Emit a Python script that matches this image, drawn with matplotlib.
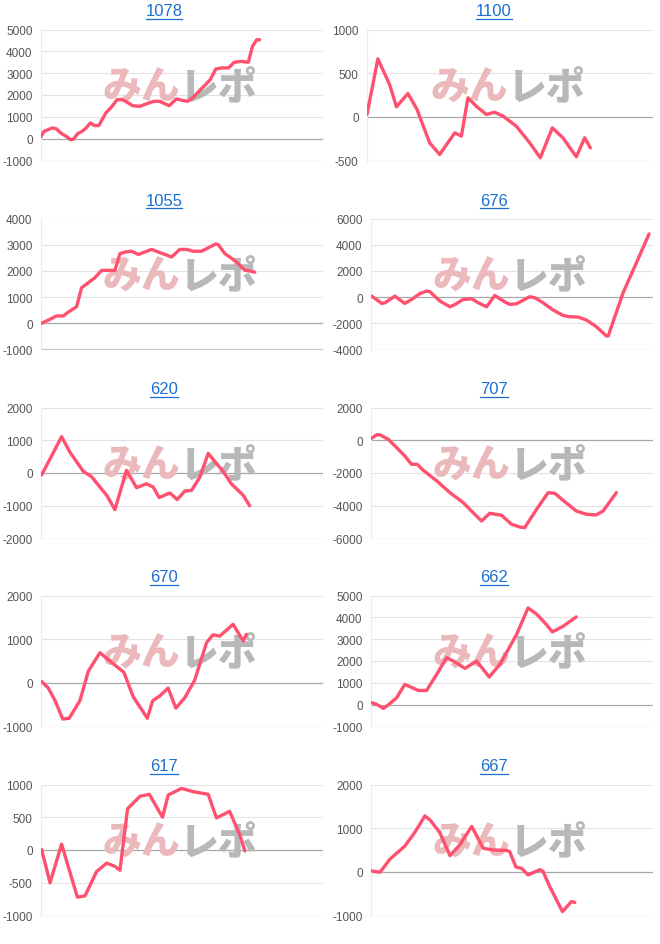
import matplotlib
matplotlib.use('Agg')
import matplotlib.pyplot as plt
from matplotlib.lines import Line2D
import numpy as np

# panel titles (machine numbers) in reading order
titles = ['1078', '1100', '1055', '676', '620', '707', '670', '662', '617', '667']

# x positions are progress through the period (0-100), y values are the running totals
x1078 = [0, 1, 4, 5.5, 7, 9, 10.5, 11.5, 13, 14.5, 16, 17.5, 19, 20.5, 23, 25, 27, 28.5, 30, 32.5,
         35, 37.5, 40, 42, 45.5, 48, 50, 52, 54, 56, 58, 60, 62, 64, 66.5, 68.5, 71, 73.5, 75, 76.5, 77.5]
y1078 = [100, 330, 490, 450, 260, 100, -50, -20, 230, 330, 490, 720, 600, 600, 1180, 1450, 1790, 1790,
         1710, 1510, 1480, 1600, 1710, 1710, 1510, 1820, 1760, 1710, 1890, 2170, 2430, 2700, 3190, 3240,
         3240, 3500, 3540, 3500, 4230, 4530, 4530]

x1100 = [0, 3.8, 7.9, 10.3, 14.3, 17.5, 21.9, 25.4, 30.7, 33, 35.3, 38.2, 41.7, 44.6, 47.6, 52.2,
         56.9, 60.6, 64.8, 68.5, 73.2, 76.1, 78.1]
y1100 = [27, 664, 370, 115, 267, 84, -298, -431, -183, -221, 218, 122, 27, 53, 8, -107, -298, -469,
         -126, -240, -458, -240, -355]

x1055 = [0.2, 2, 5.5, 7.9, 9.7, 12.6, 14.4, 16.8, 19.1, 21.5, 26.2, 28, 29.8, 32.1, 34.5, 36.8, 39.2,
         41.6, 43.9, 46.3, 49.2, 51.6, 54, 56.9, 59.3, 62, 62.8, 65.2, 68.1, 69.9, 72.3, 74, 75.8]
y1055 = [0, 90, 280, 280, 430, 630, 1360, 1550, 1740, 2020, 2020, 2660, 2720, 2750, 2630, 2720, 2820,
         2720, 2630, 2530, 2820, 2820, 2750, 2750, 2880, 3030, 3010, 2660, 2440, 2280, 2020, 2000, 1950]

x676 = [0.2, 3.8, 5, 8.5, 9.7, 12, 14.4, 17.4, 19.7, 20.9, 24.4, 28, 29.8, 32.7, 35.7, 38, 41, 43.9,
        46.9, 49.2, 51.6, 56.3, 58.1, 61, 64.6, 68.1, 70.5, 73.4, 76.4, 79.9, 83.5, 84.1, 89.4, 94.1, 98.6]
y676 = [80, -480, -430, 80, -130, -480, -180, 280, 460, 410, -300, -740, -560, -180, -130, -430, -740,
        130, -300, -560, -510, 30, -50, -430, -990, -1400, -1500, -1520, -1750, -2260, -2970, -2970,
        330, 2610, 4820]

x620 = [0.2, 3.2, 7.3, 10.3, 15, 17.9, 20.9, 23.3, 26.2, 30.3, 33.9, 37.4, 39.8, 41.9, 45.7, 48.3,
        51, 53.4, 56.3, 59.3, 62.8, 64.6, 67.5, 71.7, 74]
y620 = [-60, 430, 1110, 630, 50, -110, -430, -680, -1120, 80, -450, -330, -430, -750, -610, -810,
        -550, -530, -130, 600, 230, 50, -330, -680, -1000]

x707 = [0.2, 2, 3.2, 6.1, 9.1, 12, 14.4, 16.4, 18.5, 23.3, 28, 32.7, 36.2, 39.2, 42.1, 46.3, 49.8,
        52.8, 54.5, 58.7, 62.8, 65.2, 68.1, 72.8, 76.4, 79.9, 82.3, 87]
y707 = [120, 330, 330, 60, -450, -960, -1470, -1470, -1830, -2480, -3200, -3810, -4420, -4930, -4460,
        -4580, -5130, -5300, -5340, -4220, -3200, -3240, -3670, -4320, -4520, -4560, -4320, -3200]

x670 = [0.2, 2.6, 5, 7.7, 10, 13.8, 16.8, 20.9, 24.4, 29.4, 32.7, 37.7, 39.6, 42.1, 45.1, 47.8, 51,
        54.5, 58.7, 61, 63.4, 68.1, 71.7, 72.8]
y670 = [30, -120, -410, -830, -810, -410, 270, 690, 500, 240, -320, -810, -410, -300, -120, -580,
        -340, 60, 920, 1100, 1070, 1340, 960, 1110]

x662 = [0.2, 2, 4.4, 6.1, 9.1, 12, 16.8, 19.7, 23.3, 26.8, 29.2, 33.3, 37.4, 41.9, 45.7, 51.6, 55.7,
        58.7, 62.2, 64.3, 68.1, 72.8]
y662 = [90, 15, -170, -15, 320, 930, 650, 650, 1390, 2150, 2000, 1660, 2000, 1270, 1840, 3210, 4430,
        4150, 3670, 3330, 3590, 4020]

x617 = [0.2, 3.2, 7.3, 12.9, 15.6, 19.7, 23.3, 26.2, 28, 30.7, 35.1, 38.4, 43.1, 45.1, 49.8, 54,
        59.3, 62.2, 66.9, 70.5, 72.3]
y617 = [10, -500, 90, -720, -700, -330, -200, -250, -310, 630, 820, 850, 500, 840, 940, 890, 850,
        490, 590, 230, -15]

x667 = [0.2, 3.2, 6.7, 12, 15.6, 19.1, 20.9, 24.4, 28, 31.5, 35.7, 39.8, 43.3, 48.1, 49.2, 51.4,
        53.4, 55.7, 59.9, 61, 63.4, 67.9, 69.3, 71.1, 72.3]
y667 = [20, -10, 290, 590, 910, 1280, 1190, 900, 370, 620, 1040, 540, 500, 490, 460, 110, 80, -70,
        50, 10, -340, -910, -810, -680, -700]

xs = [x1078, x1100, x1055, x676, x620, x707, x670, x662, x617, x667]
ys = [y1078, y1100, y1055, y676, y620, y707, y670, y662, y617, y667]

# y axis range and tick step of each panel
ylims = [(-1000, 5000, 1000), (-500, 1000, 500), (-1000, 4000, 1000), (-4000, 6000, 2000),
         (-2000, 2000, 1000), (-6000, 2000, 2000), (-1000, 2000, 1000), (-1000, 5000, 1000),
         (-1000, 1000, 500), (-1000, 2000, 1000)]

W, H = 660, 945
fig = plt.figure(figsize=(W / 100, H / 100), dpi=100)
fig.patch.set_facecolor('white')

row_tops = [0, 189, 378, 566, 755]
line_col = '#ff516f'
num_font = ['Liberation Sans', 'DejaVu Sans']
cjk_font = ['Noto Sans CJK JP', 'DejaVu Sans']

title_texts = []
for i, t in enumerate(titles):
    r, c = divmod(i, 2)
    top = row_tops[r]
    left = 41 + 330 * c
    if t == '1100':
        left = 367
    right = 323 + 330 * c
    ax = fig.add_axes([left / W, 1 - (top + 161.5) / H, (right - left) / W, 131 / H])
    lo, hi, step = ylims[i]
    ticks = np.arange(lo, hi + step, step)
    ax.set_ylim(lo, hi)
    ax.set_xlim(0, 100)
    ax.set_yticks(ticks)
    ax.set_yticklabels([str(v) for v in ticks], fontfamily=num_font, fontsize=8.5, color='#555555')
    ax.tick_params(axis='y', length=0, pad=6)
    ax.set_xticks([])
    for s in ['top', 'right', 'bottom']:
        ax.spines[s].set_visible(False)
    ax.spines['left'].set_color('#ebebeb')
    ax.spines['left'].set_linewidth(0.8)
    for v in ticks:
        if v == 0:
            ax.axhline(v, color='#a8a8a8', lw=0.9, zorder=1)
        elif v == lo:
            ax.axhline(v, color='#c8c8c8', lw=0.9, zorder=1)
        else:
            ax.axhline(v, color='#e3e3e3', lw=0.8, zorder=1)

    # watermark logo
    ax.text(0.495, 0.565, 'みん', transform=ax.transAxes, ha='right', va='center',
            fontsize=28, fontweight='black', color='#ebb9bb', fontfamily=cjk_font, zorder=2)
    ax.text(0.49, 0.565, 'レポ', transform=ax.transAxes, ha='left', va='center',
            fontsize=28, fontweight='black', color='#b8b8b8', fontfamily=cjk_font, zorder=2)

    ax.plot(xs[i], ys[i], color=line_col, lw=2.4, solid_joinstyle='round',
            solid_capstyle='round', zorder=3)

    tt = fig.text((164 + 330 * c) / W, 1 - (top + 12) / H, t, ha='center', va='center',
                  fontsize=12, color='#1a6fd0', fontfamily=num_font)
    title_texts.append(tt)

# underline the titles like links
fig.canvas.draw()
rend = fig.canvas.get_renderer()
for tt in title_texts:
    bb = tt.get_window_extent(renderer=rend)
    yy = bb.y0 - 0.5
    fig.add_artist(Line2D([bb.x0 / W, bb.x1 / W], [yy / H, yy / H], color='#1a6fd0', lw=0.9,
                          transform=fig.transFigure))

fig.savefig('out.png', dpi=100, facecolor='white')
